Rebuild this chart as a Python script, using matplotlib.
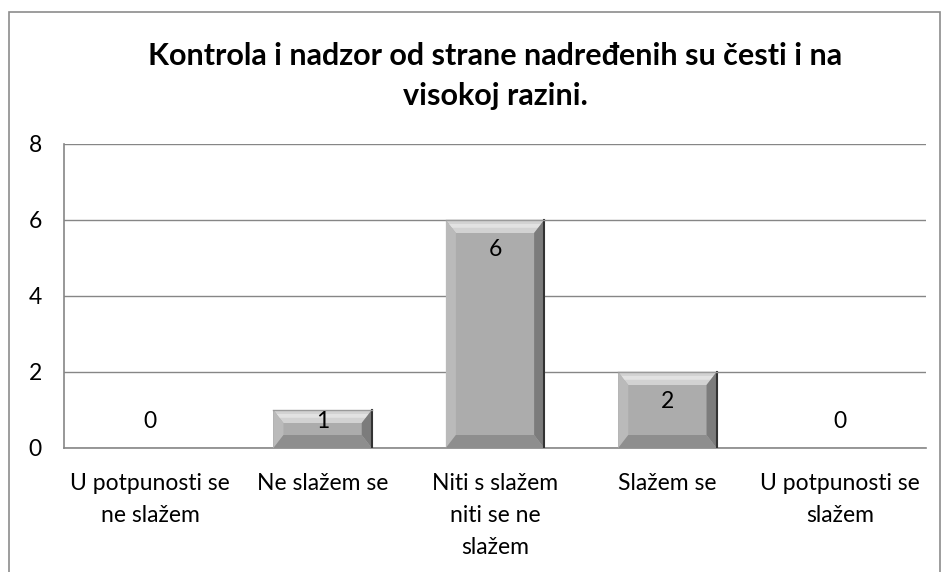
import matplotlib
matplotlib.use('Agg')
import matplotlib.pyplot as plt
import matplotlib.patches as mpatches
import numpy as np

# data
categories = ['U potpunosti se\nne slažem', 'Ne slažem se', 'Niti s slažem\nniti se ne\nslažem',
              'Slažem se', 'U potpunosti se\nslažem']
values = [0, 1, 6, 2, 0]
yTicks = [0, 2, 4, 6, 8]
title = 'Kontrola i nadzor od strane nadređenih su česti i na\nvisokoj razini.'

FONT = 'Lato'
W, H, DPI = 942, 572, 100
plt.rcParams['font.family'] = [FONT, 'DejaVu Sans']

fig = plt.figure(figsize=(W/DPI, H/DPI), dpi=DPI)
# outer chart border
fig.patches.append(mpatches.Rectangle((8.5/W, -0.1), (931.0)/W, 1.1 - 12/H,
                                      transform=fig.transFigure, fill=False,
                                      ec='#8c8c8c', lw=1.2))

ax = fig.add_axes([64/W, (H-448)/H, 862/W, 304/H])
ax.set_xlim(-0.5, len(values)-0.5)
ax.set_ylim(0, 8)
ax.set_yticks(yTicks)
ax.set_xticks(range(len(values)))
ax.set_xticklabels(categories, linespacing=1.65)
ax.tick_params(axis='y', length=0, pad=16, labelsize=16.5)
ax.tick_params(axis='x', length=0, pad=18, labelsize=16.5)
ax.yaxis.grid(True, color='#868686', lw=1)
ax.set_axisbelow(True)
for s in ['top', 'right']:
    ax.spines[s].set_visible(False)
for s in ['left', 'bottom']:
    ax.spines[s].set_color('#868686')
    ax.spines[s].set_linewidth(1.2)

# pixel -> data scale
pxX = (len(values)) / 862.
pxY = 8. / 304.
barW = 0.57
for i, v in enumerate(values):
    if v <= 0:
        continue
    x0, x1 = i - barW/2, i + barW/2
    y0, y1 = 0, v
    bx, by = 10*pxX, min(13*pxY, v/2.)
    # shadow
    for k, a in enumerate([0.05, 0.07, 0.09]):
        ax.add_patch(mpatches.Rectangle((x0+(1+k)*pxX, y0-(5-k)*pxY), barW-2*pxX, v,
                                        fc='#000000', alpha=a, ec='none', zorder=2))
    ax.add_patch(mpatches.Rectangle((x0, y0), barW, v, fc='#acacac', ec='none', zorder=3))
    # top bevel
    ax.add_patch(mpatches.Polygon([(x0, y1), (x1, y1), (x1-bx, y1-by), (x0+bx, y1-by)],
                                  fc='#d2d2d2', ec='none', zorder=4))
    ax.add_patch(mpatches.Polygon([(x0+bx*0.3, y1-by*0.3), (x1-bx*0.3, y1-by*0.3),
                                   (x1-bx*0.6, y1-by*0.6), (x0+bx*0.6, y1-by*0.6)],
                                  fc='#e2e2e2', ec='none', zorder=4))
    # left bevel
    ax.add_patch(mpatches.Polygon([(x0, y0), (x0, y1), (x0+bx, y1-by), (x0+bx, y0+by)],
                                  fc='#bababa', ec='none', zorder=4))
    # right bevel
    ax.add_patch(mpatches.Polygon([(x1, y0), (x1, y1), (x1-bx, y1-by), (x1-bx, y0+by)],
                                  fc='#7c7c7c', ec='none', zorder=4))
    # bottom bevel
    ax.add_patch(mpatches.Polygon([(x0, y0), (x1, y0), (x1-bx, y0+by), (x0+bx, y0+by)],
                                  fc='#8e8e8e', ec='none', zorder=4))
    ax.plot([x1, x1], [y0, y1], color='#333333', lw=1.5, zorder=5)
    ax.plot([x0, x1], [y1, y1], color='#9a9a9a', lw=1, zorder=5)

# value labels
for i, v in enumerate(values):
    ly = max(v - 30*pxY, 27*pxY)
    ax.text(i, ly, str(v), ha='center', va='center', fontsize=16.5, zorder=6)

fig.text(495/W, 1 - 76/H, title, ha='center', va='center', fontsize=22,
         fontweight='bold', linespacing=1.5)

fig.savefig('out.png', dpi=DPI)
